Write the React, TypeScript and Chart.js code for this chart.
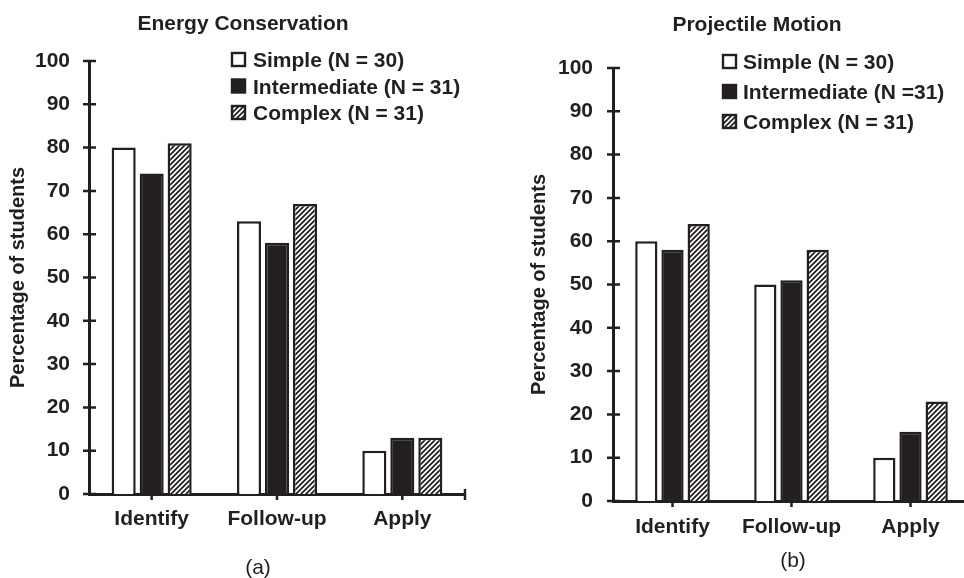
import React, { useEffect, useRef } from 'react';
import { Chart, registerables } from 'chart.js';

Chart.register(...registerables);

// ---- data ----
const categories = ['Identify', 'Follow-up', 'Apply'];

const energyTitle = 'Energy Conservation';
const energyLabels = ['Simple (N = 30)', 'Intermediate (N = 31)', 'Complex (N = 31)'];
const energySimple = [80, 63, 10];
const energyIntermediate = [74, 58, 13];
const energyComplex = [81, 67, 13];

const projTitle = 'Projectile Motion';
const projLabels = ['Simple (N = 30)', 'Intermediate (N =31)', 'Complex (N = 31)'];
const projSimple = [60, 50, 10];
const projIntermediate = [58, 51, 16];
const projComplex = [64, 58, 23];

const yAxisTitle = 'Percentage of students';
const yMin = 0;
const yMax = 100;
const yStep = 10;

const INK = '#231f20';
const FONT = "'Liberation Sans', Arial, Helvetica, sans-serif";

function makeHatch(): CanvasPattern | string {
  const c = document.createElement('canvas');
  const s = 5;
  c.width = s;
  c.height = s;
  const g = c.getContext('2d');
  if (!g) return INK;
  g.fillStyle = '#ffffff';
  g.fillRect(0, 0, s, s);
  g.strokeStyle = INK;
  g.lineWidth = 1.8;
  g.beginPath();
  g.moveTo(0, s);
  g.lineTo(s, 0);
  g.moveTo(-1, 1);
  g.lineTo(1, -1);
  g.moveTo(s - 1, s + 1);
  g.lineTo(s + 1, s - 1);
  g.stroke();
  const p = g.createPattern(c, 'repeat');
  return p || INK;
}

const decorPlugin = {
  id: 'decor',
  afterDraw(chart: any, _args: any, opts: any) {
    const ctx: CanvasRenderingContext2D = chart.ctx;
    const { left, right, bottom } = chart.chartArea;
    const xs = chart.scales.x;
    const ys = chart.scales.y;
    ctx.save();
    ctx.strokeStyle = INK;
    ctx.lineWidth = 2.5;
    ctx.beginPath();
    ys.ticks.forEach((t: any) => {
      const py = ys.getPixelForValue(t.value);
      ctx.moveTo(left - 6, py);
      ctx.lineTo(left + 7, py);
    });
    chart.data.labels.forEach((_l: any, i: number) => {
      const px = xs.getPixelForValue(i);
      ctx.moveTo(px, bottom);
      ctx.lineTo(px, bottom + 6);
    });
    ctx.moveTo(right, bottom - 5);
    ctx.lineTo(right, bottom + 6);
    ctx.stroke();

    // title
    ctx.fillStyle = INK;
    ctx.font = `bold 21px ${FONT}`;
    ctx.textAlign = 'center';
    ctx.textBaseline = 'alphabetic';
    ctx.fillText(opts.title, opts.titleX, opts.titleY);

    // legend
    ctx.textAlign = 'left';
    chart.data.datasets.forEach((ds: any, i: number) => {
      const by = opts.legendY + i * opts.legendGap;
      const sq = 13;
      const sx = opts.legendX;
      const sy = by - 14;
      ctx.fillStyle = ds.backgroundColor;
      ctx.fillRect(sx, sy, sq, sq);
      ctx.lineWidth = 2.4;
      ctx.strokeStyle = INK;
      ctx.strokeRect(sx, sy, sq, sq);
      ctx.fillStyle = INK;
      ctx.font = `bold 21px ${FONT}`;
      ctx.fillText(ds.label, opts.legendTextX, by);
    });

    // caption
    ctx.font = `21px ${FONT}`;
    ctx.textAlign = 'center';
    ctx.textBaseline = 'middle';
    ctx.fillStyle = INK;
    ctx.fillText(opts.caption, opts.captionX, opts.captionY);
    ctx.restore();
  },
};

type PanelProps = {
  left: number;
  width: number;
  labels: string[];
  simple: number[];
  intermediate: number[];
  complex: number[];
  geom: any;
};

function Panel({ left, width, labels, simple, intermediate, complex, geom }: PanelProps) {
  const ref = useRef<HTMLCanvasElement | null>(null);
  useEffect(() => {
    if (!ref.current) return;
    const hatch = makeHatch();
    const common = {
      borderColor: INK,
      borderWidth: 2.5,
      categoryPercentage: geom.catPct,
      barPercentage: geom.barPct,
    };
    const chart = new Chart(ref.current, {
      type: 'bar',
      data: {
        labels: categories,
        datasets: [
          { label: labels[0], data: simple, backgroundColor: '#ffffff', ...common },
          { label: labels[1], data: intermediate, backgroundColor: INK, ...common },
          { label: labels[2], data: complex, backgroundColor: hatch as any, ...common },
        ],
      },
      options: {
        animation: false,
        responsive: false,
        devicePixelRatio: 1,
        layout: { padding: { left: 0, top: geom.top, right: geom.padRight, bottom: 0 } },
        plugins: {
          legend: { display: false },
          tooltip: { enabled: false },
          title: { display: false },
          decor: geom.decor,
        } as any,
        scales: {
          x: {
            grid: { display: false, drawTicks: false },
            border: { display: true, color: INK, width: 3 },
            ticks: {
              color: INK,
              padding: geom.xPad,
              font: { family: FONT, size: 21, weight: 'bold' },
            },
            afterFit: (s: any) => {
              s.height = geom.xHeight;
            },
          },
          y: {
            min: yMin,
            max: yMax,
            grid: { display: false, drawTicks: false },
            border: { display: true, color: INK, width: 3 },
            ticks: {
              stepSize: yStep,
              color: INK,
              padding: geom.yPad,
              font: { family: FONT, size: 21, weight: 'bold' },
            },
            title: {
              display: true,
              text: yAxisTitle,
              color: INK,
              padding: { top: geom.yTitlePad, bottom: 0 },
              font: { family: FONT, size: 20, weight: 'bold' },
            },
            afterFit: (s: any) => {
              s.width = geom.yWidth;
            },
          },
        },
      },
      plugins: [decorPlugin],
    });
    return () => chart.destroy();
  }, []);
  return (
    <canvas
      ref={ref}
      width={width}
      height={578}
      style={{ position: 'absolute', left, top: 0, width, height: 578 }}
    />
  );
}

const geomA = {
  top: 61,
  padRight: 17,
  xHeight: 84,
  yWidth: 89,
  xPad: 13,
  yPad: 19,
  yTitlePad: 6,
  catPct: 0.67,
  barPct: 0.86,
  decor: {
    title: energyTitle,
    titleX: 243,
    titleY: 30,
    legendX: 232,
    legendTextX: 253,
    legendY: 67,
    legendGap: 26.5,
    caption: '(a)',
    captionX: 258,
    captionY: 568,
  },
};

const geomB = {
  top: 68,
  padRight: 12,
  xHeight: 77,
  yWidth: 131,
  xPad: 14,
  yPad: 20,
  yTitlePad: 45,
  catPct: 0.66,
  barPct: 0.85,
  decor: {
    title: projTitle,
    titleX: 275,
    titleY: 31,
    legendX: 241,
    legendTextX: 261,
    legendY: 69,
    legendGap: 30,
    caption: '(b)',
    captionX: 311,
    captionY: 561,
  },
};

export default function App() {
  return (
    <div
      style={{
        position: 'fixed',
        left: 0,
        top: 0,
        width: 964,
        height: 578,
        overflow: 'hidden',
        background: '#ffffff',
      }}
    >
      <Panel
        left={0}
        width={482}
        labels={energyLabels}
        simple={energySimple}
        intermediate={energyIntermediate}
        complex={energyComplex}
        geom={geomA}
      />
      <Panel
        left={482}
        width={500}
        labels={projLabels}
        simple={projSimple}
        intermediate={projIntermediate}
        complex={projComplex}
        geom={geomB}
      />
    </div>
  );
}
